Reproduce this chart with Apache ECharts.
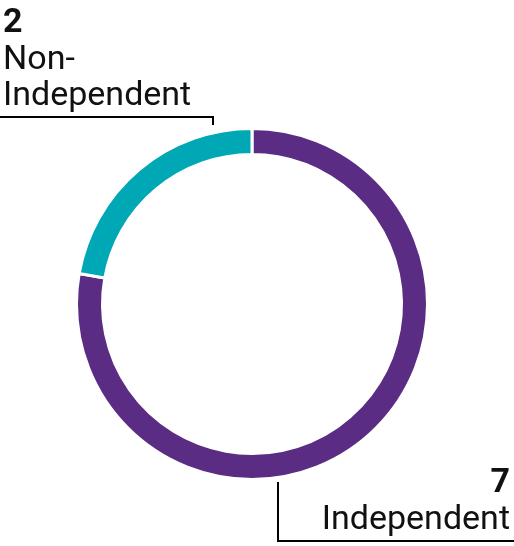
<!DOCTYPE html>
<html>
<head>
<meta charset="utf-8">
<script src="https://cdn.jsdelivr.net/npm/echarts@6/dist/echarts.min.js"></script>
<style>
  html, body { margin: 0; padding: 0; background: #fff; }
  #chart { width: 514px; height: 546px; }
</style>
</head>
<body>
<div id="chart"></div>
<script>
// 数据
const categories = ['Independent', 'Non-Independent'];
const values = [7, 2];
const colors = ['#5b2c83', '#00a8b6'];

// 饼图几何
const cx = 252, cy = 304, rOuter = 174;

const instance = echarts.init(document.querySelector('#chart'));

instance.setOption({
    animation: false,
    textStyle: { fontFamily: 'Roboto' },
    series: [
        {
            type: 'pie',
            center: [cx, cy],
            radius: [rOuter - 24.5, rOuter + 1.5],
            startAngle: 90,
            clockwise: true,
            silent: true,
            itemStyle: {
                borderColor: '#fff',
                borderWidth: 3,
            },
            label: {
                show: true,
                position: 'outside',
                overflow: 'none',
                color: '#111',
                formatter: p => p.dataIndex === 0
                    ? `{v|${ p.value }}\n{n|${ p.name }}`
                    : `{v|${ p.value }}\n{n|Non-}\n{n|Independent}`,
                rich: {
                    v: { fontSize: 34, fontWeight: 'bold', lineHeight: 38, fontFamily: 'Roboto', color: '#111' },
                    n: { fontSize: 34, lineHeight: 36.5, fontFamily: 'Roboto', color: '#111' },
                },
            },
            labelLine: {
                show: true,
                lineStyle: { color: '#000', width: 2 },
            },
            labelLayout: params => {
                const w = instance.getWidth();
                if (params.dataIndex === 1) {
                    // 左上
                    const x = cx - 39;
                    return {
                        x: 3,
                        y: 4,
                        align: 'left',
                        verticalAlign: 'top',
                        labelLinePoints: [[x, cy - rOuter - 5], [x, 117], [0, 117]],
                    };
                }
                // 右下
                const x = cx + 26;
                return {
                    x: w - 4,
                    y: 539,
                    align: 'right',
                    verticalAlign: 'bottom',
                    labelLinePoints: [[x, cy + rOuter + 4], [x, 541], [w, 541]],
                };
            },
            data: categories.map((name, i) => ({
                name,
                value: values[i],
                itemStyle: { color: colors[i] },
            })),
        },
    ],
});
</script>
</body>
</html>
